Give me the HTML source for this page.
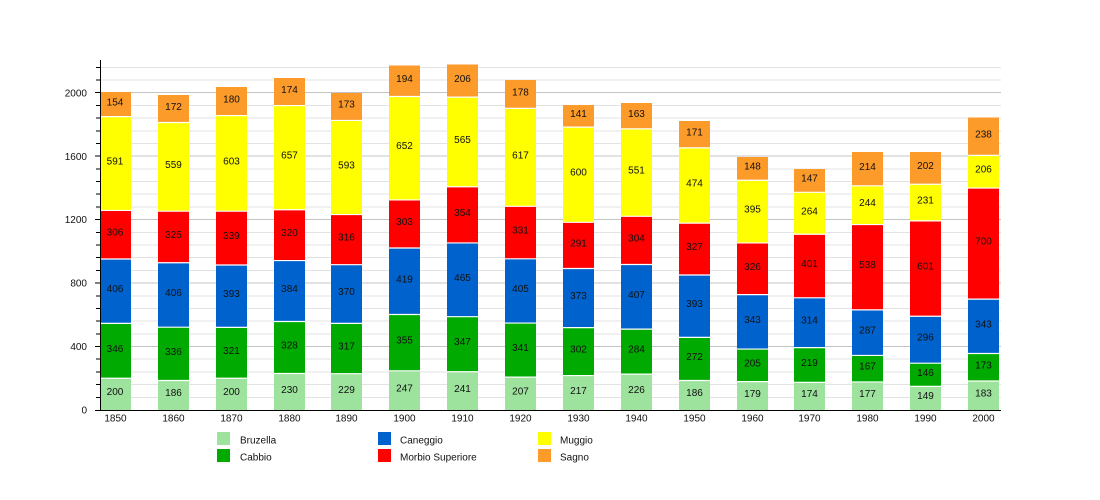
<!DOCTYPE html>
<html><head><meta charset="utf-8"><style>
html,body{margin:0;padding:0;background:#fff;}
svg{display:block;}
text{font-family:"Liberation Sans",Arial,sans-serif;font-size:10px;fill:#111;}
</style></head><body>
<svg width="1100" height="500" viewBox="0 0 1100 500" xmlns="http://www.w3.org/2000/svg">
<g stroke="#e3e3e3" stroke-width="1" shape-rendering="crispEdges">
<line x1="100" x2="1001" y1="397.31" y2="397.31"/><line x1="100" x2="1001" y1="384.62" y2="384.62"/><line x1="100" x2="1001" y1="371.92" y2="371.92"/><line x1="100" x2="1001" y1="359.23" y2="359.23"/>
<line x1="100" x2="1001" y1="333.85" y2="333.85"/><line x1="100" x2="1001" y1="321.16" y2="321.16"/><line x1="100" x2="1001" y1="308.46" y2="308.46"/><line x1="100" x2="1001" y1="295.77" y2="295.77"/>
<line x1="100" x2="1001" y1="270.39" y2="270.39"/><line x1="100" x2="1001" y1="257.70" y2="257.70"/><line x1="100" x2="1001" y1="245.00" y2="245.00"/><line x1="100" x2="1001" y1="232.31" y2="232.31"/>
<line x1="100" x2="1001" y1="206.93" y2="206.93"/><line x1="100" x2="1001" y1="194.24" y2="194.24"/><line x1="100" x2="1001" y1="181.54" y2="181.54"/><line x1="100" x2="1001" y1="168.85" y2="168.85"/>
<line x1="100" x2="1001" y1="143.47" y2="143.47"/><line x1="100" x2="1001" y1="130.78" y2="130.78"/><line x1="100" x2="1001" y1="118.08" y2="118.08"/><line x1="100" x2="1001" y1="105.39" y2="105.39"/>
<line x1="100" x2="1001" y1="80.01" y2="80.01"/><line x1="100" x2="1001" y1="67.32" y2="67.32"/>
</g>
<g stroke="#c4c4c4" stroke-width="1" shape-rendering="crispEdges">
<line x1="100" x2="1001" y1="346.54" y2="346.54"/><line x1="100" x2="1001" y1="283.08" y2="283.08"/><line x1="100" x2="1001" y1="219.62" y2="219.62"/><line x1="100" x2="1001" y1="156.16" y2="156.16"/><line x1="100" x2="1001" y1="92.70" y2="92.70"/>
</g>
<!-- bars -->
<g shape-rendering="crispEdges">
<!-- 1850 -->
<rect x="100" y="378.27" width="31" height="31.73" fill="#9de29d"/><rect x="100" y="323.38" width="31" height="54.89" fill="#00aa00"/><rect x="100" y="258.97" width="31" height="64.41" fill="#0062cc"/><rect x="100" y="210.42" width="31" height="48.55" fill="#ff0000"/><rect x="100" y="116.66" width="31" height="93.76" fill="#ffff00"/><rect x="100" y="92.22" width="31" height="24.44" fill="#fc9a2a"/>
<!-- 1860 -->
<rect x="158" y="380.49" width="31" height="29.51" fill="#9de29d"/><rect x="158" y="327.18" width="31" height="53.31" fill="#00aa00"/><rect x="158" y="262.77" width="31" height="64.41" fill="#0062cc"/><rect x="158" y="211.21" width="31" height="51.56" fill="#ff0000"/><rect x="158" y="122.53" width="31" height="88.68" fill="#ffff00"/><rect x="158" y="95.24" width="31" height="27.29" fill="#fc9a2a"/>
<!-- 1870 -->
<rect x="216" y="378.27" width="31" height="31.73" fill="#9de29d"/><rect x="216" y="327.34" width="31" height="50.93" fill="#00aa00"/><rect x="216" y="264.99" width="31" height="62.35" fill="#0062cc"/><rect x="216" y="211.21" width="31" height="53.78" fill="#ff0000"/><rect x="216" y="115.55" width="31" height="95.66" fill="#ffff00"/><rect x="216" y="86.99" width="31" height="28.56" fill="#fc9a2a"/>
<!-- 1880 -->
<rect x="274" y="373.51" width="31" height="36.49" fill="#9de29d"/><rect x="274" y="321.47" width="31" height="52.04" fill="#00aa00"/><rect x="274" y="260.55" width="31" height="60.92" fill="#0062cc"/><rect x="274" y="209.78" width="31" height="50.77" fill="#ff0000"/><rect x="274" y="105.55" width="31" height="104.23" fill="#ffff00"/><rect x="274" y="77.95" width="31" height="27.60" fill="#fc9a2a"/>
<!-- 1890 -->
<rect x="331" y="373.67" width="31" height="36.33" fill="#9de29d"/><rect x="331" y="323.38" width="31" height="50.29" fill="#00aa00"/><rect x="331" y="264.68" width="31" height="58.70" fill="#0062cc"/><rect x="331" y="214.54" width="31" height="50.14" fill="#ff0000"/><rect x="331" y="120.46" width="31" height="94.08" fill="#ffff00"/><rect x="331" y="93.02" width="31" height="27.44" fill="#fc9a2a"/>
<!-- 1900 -->
<rect x="389" y="370.81" width="31" height="39.19" fill="#9de29d"/><rect x="389" y="314.49" width="31" height="56.32" fill="#00aa00"/><rect x="389" y="248.02" width="31" height="66.47" fill="#0062cc"/><rect x="389" y="199.95" width="31" height="48.07" fill="#ff0000"/><rect x="389" y="96.51" width="31" height="103.44" fill="#ffff00"/><rect x="389" y="65.73" width="31" height="30.78" fill="#fc9a2a"/>
<!-- 1910 -->
<rect x="447" y="371.77" width="31" height="38.23" fill="#9de29d"/><rect x="447" y="316.71" width="31" height="55.06" fill="#00aa00"/><rect x="447" y="242.94" width="31" height="73.77" fill="#0062cc"/><rect x="447" y="186.78" width="31" height="56.16" fill="#ff0000"/><rect x="447" y="97.14" width="31" height="89.64" fill="#ffff00"/><rect x="447" y="64.46" width="31" height="32.68" fill="#fc9a2a"/>
<!-- 1920 -->
<rect x="505" y="377.16" width="31" height="32.84" fill="#9de29d"/><rect x="505" y="323.06" width="31" height="54.10" fill="#00aa00"/><rect x="505" y="258.81" width="31" height="64.25" fill="#0062cc"/><rect x="505" y="206.29" width="31" height="52.52" fill="#ff0000"/><rect x="505" y="108.41" width="31" height="97.88" fill="#ffff00"/><rect x="505" y="80.17" width="31" height="28.24" fill="#fc9a2a"/>
<!-- 1930 -->
<rect x="563" y="375.57" width="31" height="34.43" fill="#9de29d"/><rect x="563" y="327.66" width="31" height="47.91" fill="#00aa00"/><rect x="563" y="268.48" width="31" height="59.18" fill="#0062cc"/><rect x="563" y="222.32" width="31" height="46.16" fill="#ff0000"/><rect x="563" y="127.13" width="31" height="95.19" fill="#ffff00"/><rect x="563" y="104.76" width="31" height="22.37" fill="#fc9a2a"/>
<!-- 1940 -->
<rect x="621" y="374.15" width="31" height="35.85" fill="#9de29d"/><rect x="621" y="329.09" width="31" height="45.06" fill="#00aa00"/><rect x="621" y="264.52" width="31" height="64.57" fill="#0062cc"/><rect x="621" y="216.29" width="31" height="48.23" fill="#ff0000"/><rect x="621" y="128.87" width="31" height="87.42" fill="#ffff00"/><rect x="621" y="103.01" width="31" height="25.86" fill="#fc9a2a"/>
<!-- 1950 -->
<rect x="679" y="380.49" width="31" height="29.51" fill="#9de29d"/><rect x="679" y="337.34" width="31" height="43.15" fill="#00aa00"/><rect x="679" y="274.99" width="31" height="62.35" fill="#0062cc"/><rect x="679" y="223.11" width="31" height="51.88" fill="#ff0000"/><rect x="679" y="147.91" width="31" height="75.20" fill="#ffff00"/><rect x="679" y="120.78" width="31" height="27.13" fill="#fc9a2a"/>
<!-- 1960 -->
<rect x="737" y="381.60" width="31" height="28.40" fill="#9de29d"/><rect x="737" y="349.08" width="31" height="32.52" fill="#00aa00"/><rect x="737" y="294.66" width="31" height="54.42" fill="#0062cc"/><rect x="737" y="242.94" width="31" height="51.72" fill="#ff0000"/><rect x="737" y="180.27" width="31" height="62.67" fill="#ffff00"/><rect x="737" y="156.79" width="31" height="23.48" fill="#fc9a2a"/>
<!-- 1970 -->
<rect x="794" y="382.39" width="31" height="27.61" fill="#9de29d"/><rect x="794" y="347.65" width="31" height="34.74" fill="#00aa00"/><rect x="794" y="297.83" width="31" height="49.82" fill="#0062cc"/><rect x="794" y="234.22" width="31" height="63.61" fill="#ff0000"/><rect x="794" y="192.33" width="31" height="41.89" fill="#ffff00"/><rect x="794" y="169.01" width="31" height="23.32" fill="#fc9a2a"/>
<!-- 1980 -->
<rect x="852" y="381.92" width="31" height="28.08" fill="#9de29d"/><rect x="852" y="355.42" width="31" height="26.50" fill="#00aa00"/><rect x="852" y="309.89" width="31" height="45.53" fill="#0062cc"/><rect x="852" y="224.54" width="31" height="85.35" fill="#ff0000"/><rect x="852" y="185.83" width="31" height="38.71" fill="#ffff00"/><rect x="852" y="151.88" width="31" height="33.95" fill="#fc9a2a"/>
<!-- 1990 -->
<rect x="910" y="386.36" width="31" height="23.64" fill="#9de29d"/><rect x="910" y="363.20" width="31" height="23.16" fill="#00aa00"/><rect x="910" y="316.24" width="31" height="46.96" fill="#0062cc"/><rect x="910" y="220.89" width="31" height="95.35" fill="#ff0000"/><rect x="910" y="184.24" width="31" height="36.65" fill="#ffff00"/><rect x="910" y="152.19" width="31" height="32.05" fill="#fc9a2a"/>
<!-- 2000 -->
<rect x="968" y="380.97" width="31" height="29.03" fill="#9de29d"/><rect x="968" y="353.52" width="31" height="27.45" fill="#00aa00"/><rect x="968" y="299.10" width="31" height="54.42" fill="#0062cc"/><rect x="968" y="188.05" width="31" height="111.05" fill="#ff0000"/><rect x="968" y="155.37" width="31" height="32.68" fill="#ffff00"/><rect x="968" y="117.61" width="31" height="37.76" fill="#fc9a2a"/>
</g>
<!-- white separators -->
<g stroke="#fff" stroke-width="1.2">
<path d="M100 378.27h31M100 323.38h31M100 258.97h31M100 210.42h31M100 116.66h31"/>
<path d="M158 380.49h31M158 327.18h31M158 262.77h31M158 211.21h31M158 122.53h31"/>
<path d="M216 378.27h31M216 327.34h31M216 264.99h31M216 211.21h31M216 115.55h31"/>
<path d="M274 373.51h31M274 321.47h31M274 260.55h31M274 209.78h31M274 105.55h31"/>
<path d="M331 373.67h31M331 323.38h31M331 264.68h31M331 214.54h31M331 120.46h31"/>
<path d="M389 370.81h31M389 314.49h31M389 248.02h31M389 199.95h31M389 96.51h31"/>
<path d="M447 371.77h31M447 316.71h31M447 242.94h31M447 186.78h31M447 97.14h31"/>
<path d="M505 377.16h31M505 323.06h31M505 258.81h31M505 206.29h31M505 108.41h31"/>
<path d="M563 375.57h31M563 327.66h31M563 268.48h31M563 222.32h31M563 127.13h31"/>
<path d="M621 374.15h31M621 329.09h31M621 264.52h31M621 216.29h31M621 128.87h31"/>
<path d="M679 380.49h31M679 337.34h31M679 274.99h31M679 223.11h31M679 147.91h31"/>
<path d="M737 381.60h31M737 349.08h31M737 294.66h31M737 242.94h31M737 180.27h31"/>
<path d="M794 382.39h31M794 347.65h31M794 297.83h31M794 234.22h31M794 192.33h31"/>
<path d="M852 381.92h31M852 355.42h31M852 309.89h31M852 224.54h31M852 185.83h31"/>
<path d="M910 386.36h31M910 363.20h31M910 316.24h31M910 220.89h31M910 184.24h31"/>
<path d="M968 380.97h31M968 353.52h31M968 299.10h31M968 188.05h31M968 155.37h31"/>
</g>
<!-- bar labels -->
<g text-anchor="middle">
<text x="115" y="395.1">200</text><text x="115" y="351.8">346</text><text x="115" y="292.2">406</text><text x="115" y="235.7">306</text><text x="115" y="164.5">591</text><text x="115" y="105.4">154</text>
<text x="173.5" y="396.2">186</text><text x="173.5" y="354.8">336</text><text x="173.5" y="296.0">406</text><text x="173.5" y="238.0">325</text><text x="173.5" y="167.9">559</text><text x="173.5" y="109.9">172</text>
<text x="231.5" y="395.1">200</text><text x="231.5" y="353.8">321</text><text x="231.5" y="297.2">393</text><text x="231.5" y="239.1">339</text><text x="231.5" y="164.4">603</text><text x="231.5" y="102.3">180</text>
<text x="289.5" y="392.8">230</text><text x="289.5" y="348.5">328</text><text x="289.5" y="292.0">384</text><text x="289.5" y="236.2">320</text><text x="289.5" y="158.7">657</text><text x="289.5" y="92.8">174</text>
<text x="346.5" y="392.8">229</text><text x="346.5" y="349.5">317</text><text x="346.5" y="295.0">370</text><text x="346.5" y="240.6">316</text><text x="346.5" y="168.5">593</text><text x="346.5" y="107.7">173</text>
<text x="404.5" y="391.4">247</text><text x="404.5" y="343.7">355</text><text x="404.5" y="282.3">419</text><text x="404.5" y="225.0">303</text><text x="404.5" y="149.2">652</text><text x="404.5" y="82.1">194</text>
<text x="462.5" y="391.9">241</text><text x="462.5" y="345.2">347</text><text x="462.5" y="280.8">465</text><text x="462.5" y="215.9">354</text><text x="462.5" y="143.0">565</text><text x="462.5" y="81.8">206</text>
<text x="520.5" y="394.6">207</text><text x="520.5" y="351.1">341</text><text x="520.5" y="291.9">405</text><text x="520.5" y="233.6">331</text><text x="520.5" y="158.4">617</text><text x="520.5" y="95.3">178</text>
<text x="578.5" y="393.8">217</text><text x="578.5" y="352.6">302</text><text x="578.5" y="299.1">373</text><text x="578.5" y="246.4">291</text><text x="578.5" y="175.7">600</text><text x="578.5" y="117.0">141</text>
<text x="636.5" y="393.1">226</text><text x="636.5" y="352.6">284</text><text x="636.5" y="297.8">407</text><text x="636.5" y="241.4">304</text><text x="636.5" y="173.6">551</text><text x="636.5" y="116.9">163</text>
<text x="694.5" y="396.2">186</text><text x="694.5" y="359.9">272</text><text x="694.5" y="307.2">393</text><text x="694.5" y="250.0">327</text><text x="694.5" y="186.5">474</text><text x="694.5" y="135.3">171</text>
<text x="752.5" y="396.8">179</text><text x="752.5" y="366.3">205</text><text x="752.5" y="322.9">343</text><text x="752.5" y="269.8">326</text><text x="752.5" y="212.6">395</text><text x="752.5" y="169.5">148</text>
<text x="809.5" y="397.2">174</text><text x="809.5" y="366.0">219</text><text x="809.5" y="323.7">314</text><text x="809.5" y="267.0">401</text><text x="809.5" y="214.3">264</text><text x="809.5" y="181.7">147</text>
<text x="867.5" y="397.0">177</text><text x="867.5" y="369.7">167</text><text x="867.5" y="333.7">287</text><text x="867.5" y="268.2">538</text><text x="867.5" y="206.2">244</text><text x="867.5" y="169.9">214</text>
<text x="925.5" y="399.2">149</text><text x="925.5" y="375.8">146</text><text x="925.5" y="340.7">296</text><text x="925.5" y="269.6">601</text><text x="925.5" y="203.6">231</text><text x="925.5" y="169.2">202</text>
<text x="983.5" y="396.5">183</text><text x="983.5" y="368.3">173</text><text x="983.5" y="327.3">343</text><text x="983.5" y="244.6">700</text><text x="983.5" y="172.7">206</text><text x="983.5" y="137.5">238</text>
</g>
<!-- axes -->
<g stroke="#000" stroke-width="1" shape-rendering="crispEdges">
<line x1="100.5" y1="60" x2="100.5" y2="410.5"/>
<line x1="100" y1="410.5" x2="1001" y2="410.5"/>
<path d="M96 397.31h4M96 384.62h4M96 371.92h4M96 359.23h4M95 346.54h5M96 333.85h4M96 321.16h4M96 308.46h4M96 295.77h4M95 283.08h5M96 270.39h4M96 257.70h4M96 245.00h4M96 232.31h4M95 219.62h5M96 206.93h4M96 194.24h4M96 181.54h4M96 168.85h4M95 156.16h5M96 143.47h4M96 130.78h4M96 118.08h4M96 105.39h4M95 92.70h5M96 80.01h4M96 67.32h4M95 410.5h5"/>
</g>
<g text-anchor="end">
<text x="87" y="413.6">0</text><text x="87" y="350.1">400</text><text x="87" y="286.7">800</text><text x="87" y="223.2">1200</text><text x="87" y="159.8">1600</text><text x="87" y="96.3">2000</text>
</g>
<g text-anchor="middle">
<text x="115.5" y="421.6">1850</text><text x="173.5" y="421.6">1860</text><text x="231.5" y="421.6">1870</text><text x="289.5" y="421.6">1880</text><text x="346.5" y="421.6">1890</text><text x="404.5" y="421.6">1900</text><text x="462.5" y="421.6">1910</text><text x="520.5" y="421.6">1920</text><text x="578.5" y="421.6">1930</text><text x="636.5" y="421.6">1940</text><text x="694.5" y="421.6">1950</text><text x="752.5" y="421.6">1960</text><text x="809.5" y="421.6">1970</text><text x="867.5" y="421.6">1980</text><text x="925.5" y="421.6">1990</text><text x="983.5" y="421.6">2000</text>
</g>
<!-- legend -->
<rect x="217" y="432" width="13" height="13" fill="#9de29d"/><text x="240" y="443.6">Bruzella</text>
<rect x="217" y="449" width="13" height="13" fill="#00aa00"/><text x="240" y="460.3">Cabbio</text>
<rect x="378" y="432" width="13" height="13" fill="#0062cc"/><text x="400" y="443.6">Caneggio</text>
<rect x="378" y="449" width="13" height="13" fill="#ff0000"/><text x="400" y="460.3">Morbio Superiore</text>
<rect x="538" y="432" width="13" height="13" fill="#ffff00"/><text x="560" y="443.6">Muggio</text>
<rect x="538" y="449" width="13" height="13" fill="#fc9a2a"/><text x="560" y="460.3">Sagno</text>
</svg>
</body></html>
